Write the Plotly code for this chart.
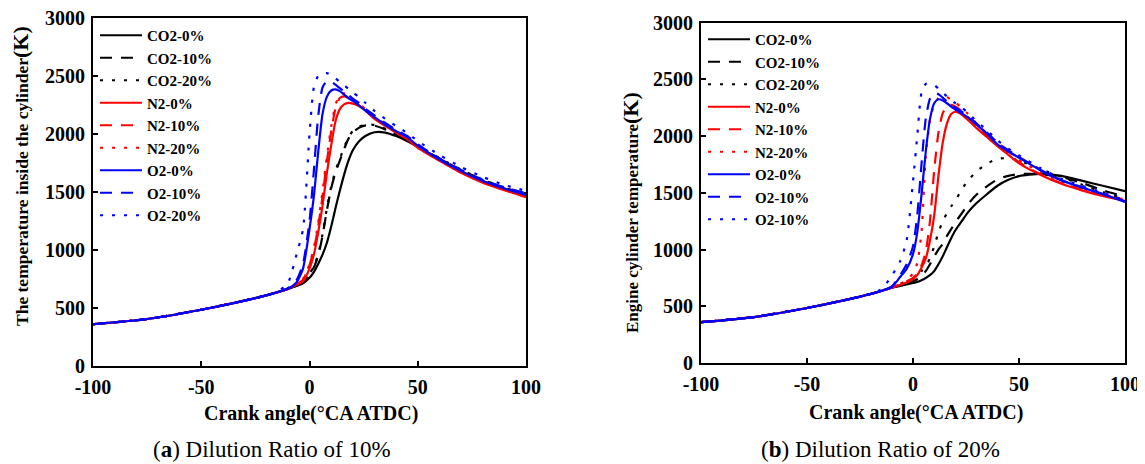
import plotly.graph_objects as go

# Crank angle grid (deg CA ATDC)
CA = [-100, -75, -50, -25, -15, -10, -6, -3, 0, 2, 4, 6, 8, 10, 12, 14, 16, 18, 20,
      23, 26, 30, 35, 40, 45, 50, 60, 70, 80, 90, 100]

COMP = [360, 405, 485, 585, 635, 665]  # common compression part (-100 .. -10)

# ---------- (a) Dilution ratio 10% ----------
a_co2_0 = COMP + [690, 712, 760, 810, 880, 960, 1060, 1200, 1360, 1510, 1650, 1770, 1860,
                  1940, 1985, 2015, 2012, 1982, 1940, 1890, 1785, 1680, 1595, 1530, 1480]
a_co2_10 = COMP + [695, 725, 790, 850, 950, 1120, 1340, 1530, 1670, 1770, 1870, 1960, 2015,
                   2055, 2075, 2072, 2040, 1995, 1950, 1895, 1790, 1690, 1605, 1535, 1485]
a_co2_20 = COMP + [697, 728, 795, 858, 960, 1135, 1355, 1545, 1685, 1785, 1885, 1972, 2025,
                   2063, 2082, 2078, 2045, 1998, 1952, 1897, 1792, 1692, 1607, 1537, 1488]
a_n2_0 = COMP + [700, 730, 840, 960, 1150, 1380, 1660, 1900, 2110, 2215, 2255, 2268, 2262,
                 2240, 2200, 2130, 2070, 2010, 1955, 1880, 1770, 1665, 1580, 1515, 1455]
a_n2_10 = COMP + [705, 745, 870, 1000, 1200, 1460, 1760, 2020, 2220, 2310, 2325, 2310, 2285,
                  2245, 2200, 2140, 2075, 2015, 1960, 1885, 1775, 1670, 1585, 1520, 1460]
a_n2_20 = COMP + [708, 750, 880, 1020, 1230, 1500, 1800, 2060, 2250, 2340, 2350, 2330, 2300,
                  2260, 2210, 2150, 2085, 2025, 1965, 1890, 1780, 1675, 1590, 1525, 1465]
a_o2_0 = COMP + [720, 840, 1180, 1460, 1840, 2170, 2320, 2375, 2385, 2370, 2340, 2310, 2285,
                 2245, 2200, 2145, 2080, 2025, 1975, 1900, 1780, 1680, 1595, 1530, 1475]
a_o2_10 = COMP[:5] + [670, 740, 880, 1250, 1680, 2150, 2400, 2455, 2450, 2425, 2395, 2365, 2335,
                      2305, 2265, 2215, 2160, 2095, 2035, 1985, 1910, 1790, 1690, 1605, 1540, 1490]
a_o2_20 = COMP[:4] + [640, 715, 960, 1180, 2000, 2400, 2500, 2520, 2525, 2510, 2480, 2450, 2420,
                      2390, 2360, 2315, 2265, 2200, 2130, 2070, 2010, 1940, 1820, 1715, 1630, 1560, 1510]

# ---------- (b) Dilution ratio 20% ----------
b_co2_0 = COMP + [680, 692, 705, 715, 730, 750, 775, 810, 870, 940, 1020, 1100, 1170,
                  1250, 1330, 1410, 1490, 1565, 1615, 1648, 1668, 1650, 1605, 1560, 1515]
b_co2_10 = COMP + [685, 700, 720, 740, 770, 810, 870, 940, 1000, 1050, 1120, 1180, 1240,
                   1320, 1400, 1485, 1560, 1620, 1650, 1665, 1665, 1640, 1585, 1520, 1465]
b_co2_20 = COMP + [690, 710, 740, 770, 810, 860, 920, 1030, 1150, 1250, 1320, 1380, 1430,
                   1530, 1610, 1690, 1760, 1800, 1805, 1785, 1710, 1640, 1570, 1505, 1445]
b_n2_0 = COMP + [690, 710, 740, 775, 840, 920, 1080, 1300, 1650, 1940, 2110, 2195, 2215,
                 2190, 2140, 2070, 1990, 1910, 1835, 1760, 1660, 1580, 1520, 1470, 1430]
b_n2_10 = COMP + [695, 720, 750, 790, 860, 980, 1250, 1700, 2030, 2200, 2265, 2275, 2260,
                  2220, 2165, 2085, 2000, 1920, 1845, 1770, 1665, 1585, 1525, 1475, 1435]
b_n2_20 = COMP + [700, 730, 790, 880, 1150, 1820, 2140, 2280, 2335, 2350, 2345, 2320, 2295,
                  2250, 2195, 2110, 2020, 1940, 1865, 1790, 1685, 1600, 1535, 1485, 1440]
b_o2_0 = COMP[:5] + [670, 760, 830, 960, 1150, 1480, 1860, 2150, 2290, 2325, 2315, 2290, 2260,
                     2235, 2200, 2165, 2100, 2020, 1925, 1865, 1810, 1700, 1610, 1545, 1485, 1420]
b_o2_10 = COMP[:5] + [675, 775, 870, 1030, 1300, 1750, 2150, 2330, 2378, 2370, 2340, 2305, 2275,
                      2250, 2215, 2175, 2110, 2030, 1940, 1875, 1815, 1705, 1612, 1548, 1488, 1425]
b_o2_20 = COMP[:4] + [650, 770, 900, 1080, 1600, 2000, 2380, 2460, 2460, 2450, 2420, 2385, 2350,
                      2320, 2290, 2250, 2205, 2130, 2050, 1960, 1890, 1830, 1720, 1625, 1560, 1500, 1435]

names_a = ["CO2-0%", "CO2-10%", "CO2-20%", "N2-0%", "N2-10%", "N2-20%", "O2-0%", "O2-10%", "O2-20%"]
names_b = ["CO2-0%", "CO2-10%", "CO2-20%", "N2-0%", "N2-10%", "N2-20%", "O2-0%", "O2-10%", "O2-10%"]
series_a = [a_co2_0, a_co2_10, a_co2_20, a_n2_0, a_n2_10, a_n2_20, a_o2_0, a_o2_10, a_o2_20]
series_b = [b_co2_0, b_co2_10, b_co2_20, b_n2_0, b_n2_10, b_n2_20, b_o2_0, b_o2_10, b_o2_20]

x_ticks = [-100, -50, 0, 50, 100]
x_tick_labels = ["-100", "-50", "0", "50", "100"]
y_ticks = [0, 500, 1000, 1500, 2000, 2500, 3000]
y_tick_labels = ["0", "500", "1000", "1500", "2000", "2500", "3000"]

colors = ["#000000"] * 3 + ["#FF0000"] * 3 + ["#0000FF"] * 3
dashes = ["solid", "12px,9px", "3px,9px"] * 3

FONT = "Liberation Serif"

fig = go.Figure()
for i, (nm, ys) in enumerate(zip(names_a, series_a)):
    fig.add_trace(go.Scatter(
        x=CA, y=ys, name=nm, mode="lines",
        line=dict(color=colors[i], dash=dashes[i], width=2.2, shape="spline", smoothing=0.6),
        xaxis="x", yaxis="y", legend="legend"))
for i, (nm, ys) in enumerate(zip(names_b, series_b)):
    fig.add_trace(go.Scatter(
        x=CA, y=ys, name=nm, mode="lines",
        line=dict(color=colors[i], dash=dashes[i], width=2.2, shape="spline", smoothing=0.6),
        xaxis="x2", yaxis="y2", legend="legend2"))

# page body has an 8px margin: figure occupies window pixels 8..1145 / 8..464
OFF = 8
W, H = 1145 - OFF, 464 - OFF
def px(x): return (x - OFF) / W
def py(y): return 1 - (y - OFF) / H

TICKFONT = dict(family=FONT, size=20, color="black")
axis_common = dict(
    showgrid=False, zeroline=False, showline=True, linecolor="black", linewidth=2,
    mirror=True, ticks="inside", ticklen=5, tickwidth=2, tickcolor="black", automargin=False,
    ticklabeloverflow="allow",
)
xt = dict(tickmode="array", tickvals=x_ticks, ticktext=["<b>%s</b>" % t for t in x_tick_labels],
          tickfont=TICKFONT, ticklabelstandoff=2)
yt = dict(tickmode="array", tickvals=y_ticks, ticktext=["<b>%s</b>" % t for t in y_tick_labels],
          tickfont=TICKFONT, ticklabelstandoff=2)

leg_font = dict(family=FONT, size=15, color="black", weight="bold")
fig.update_layout(
    width=W, height=H,
    margin=dict(l=0, r=0, t=0, b=0, autoexpand=False),
    plot_bgcolor="white", paper_bgcolor="white",
    showlegend=True,
    xaxis=dict(domain=[px(93), px(526)], range=[-100, 100], anchor="y", **xt, **axis_common),
    yaxis=dict(domain=[py(366), py(18)], range=[0, 3000], anchor="x", **yt, **axis_common),
    xaxis2=dict(domain=[px(701), px(1125)], range=[-100, 100], anchor="y2", **xt, **axis_common),
    yaxis2=dict(domain=[py(363), py(22.7)], range=[0, 3000], anchor="x2", **yt, **axis_common),
    legend=dict(x=px(95), y=py(19), xanchor="left", yanchor="top",
                bgcolor="rgba(0,0,0,0)", borderwidth=0, tracegroupgap=0, itemwidth=42,
                font=leg_font),
    legend2=dict(x=px(703), y=py(23), xanchor="left", yanchor="top",
                 bgcolor="rgba(0,0,0,0)", borderwidth=0, tracegroupgap=0, itemwidth=42,
                 font=leg_font),
)

ann = [
    dict(text="The temperature inside the cylinder<span style='font-size:22px'>(K)</span>",
         x=px(20), y=py(176), textangle=-90, size=17.5),
    dict(text="Engine cylinder temperature<span style='font-size:22px'>(K)</span>",
         x=px(630), y=py(213), textangle=-90, size=17),
    dict(text="Crank angle(°CA ATDC)", x=px(311), y=py(413), size=20),
    dict(text="Crank angle(°CA ATDC)", x=px(916), y=py(412), size=20),
]
for a in ann:
    fig.add_annotation(xref="paper", yref="paper", showarrow=False,
                       xanchor="center", yanchor="middle", text=a["text"], x=a["x"], y=a["y"],
                       textangle=a.get("textangle", 0),
                       font=dict(family=FONT, color="black", weight="bold", size=a["size"]))

for cap, xc in [("(<b>a</b>) Dilution Ratio of 10%", 272), ("(<b>b</b>) Dilution Ratio of 20%", 880)]:
    fig.add_annotation(xref="paper", yref="paper", showarrow=False, xanchor="center", yanchor="middle",
                       text=cap, x=px(xc), y=py(449),
                       font=dict(family=FONT, color="black", size=23))

fig.write_html("out.html")
